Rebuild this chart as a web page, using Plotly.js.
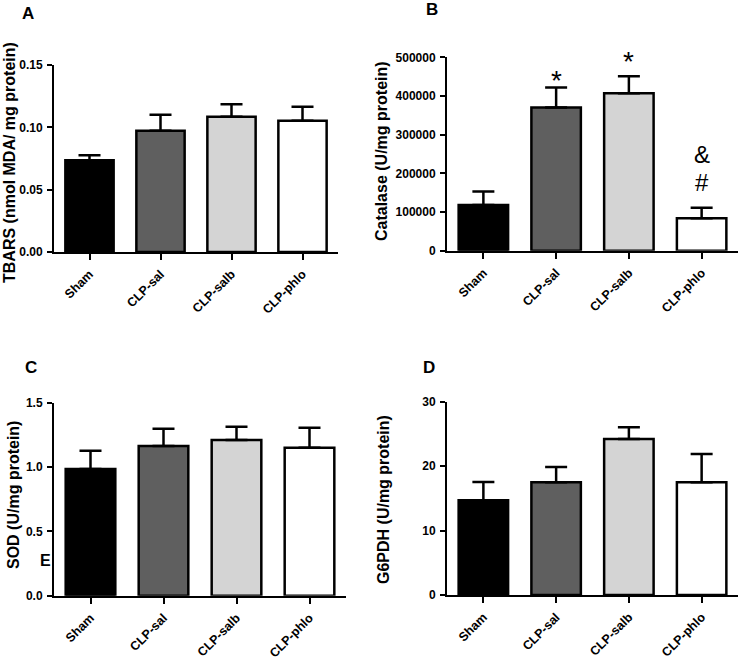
<!DOCTYPE html>
<html>
<head>
<meta charset="utf-8">
<script src="https://cdn.plot.ly/plotly-3.0.1.min.js"></script>
<style>html,body{margin:0;padding:0;background:#fff;}#chart{width:740px;height:661px;}</style>
</head>
<body>
<div id="chart"></div>
<script>
// ---- data ----
const categories = ['Sham', 'CLP-sal', 'CLP-salb', 'CLP-phlo'];

const tbarsMean = [0.0735, 0.0973, 0.1085, 0.1053];
const tbarsErr  = [0.0041, 0.0127, 0.0100, 0.0113];

const catalaseMean = [118000, 370000, 407000, 84000];
const catalaseErr  = [35000, 52000, 44000, 27000];

const sodMean = [0.985, 1.163, 1.21, 1.15];
const sodErr  = [0.142, 0.135, 0.103, 0.156];

const g6pdhMean = [14.7, 17.5, 24.2, 17.5];
const g6pdhErr  = [2.85, 2.35, 1.85, 4.4];

const tbarsTicks = [0, 0.05, 0.10, 0.15];
const catalaseTicks = [0, 100000, 200000, 300000, 400000, 500000];
const sodTicks = [0, 0.5, 1.0, 1.5];
const g6pdhTicks = [0, 10, 20, 30];

// significance marks on catalase panel: [category, label, y-value]
const sigCats   = ['CLP-sal', 'CLP-salb', 'CLP-phlo', 'CLP-phlo'];
const sigLabels = ['*', '*', '&', '#'];
const sigY      = [440000, 488000, 248000, 177000];

// ---- styles ----
const barColors = ['#000000', '#5f5f5f', '#d4d4d4', '#ffffff'];
const FONT = 'Liberation Sans, Arial, Helvetica, sans-serif';
const W = 740, H = 661;

function barTrace(mean, err, xa, ya) {
  return {
    type: 'bar', x: categories, y: mean, xaxis: xa, yaxis: ya,
    width: 0.68,
    marker: {color: barColors, line: {color: '#000', width: 2.5}},
    error_y: {type: 'data', symmetric: false, array: err,
              arrayminus: err.map(() => 0), color: '#000', thickness: 2.5, width: 11},
    showlegend: false, hoverinfo: 'x+y'
  };
}

const data = [
  barTrace(tbarsMean, tbarsErr, 'x', 'y'),
  barTrace(catalaseMean, catalaseErr, 'x2', 'y2'),
  barTrace(sodMean, sodErr, 'x3', 'y3'),
  barTrace(g6pdhMean, g6pdhErr, 'x4', 'y4')
];

function px(x) { return x / W; }
function py(y) { return 1 - y / H; }

function xAxis(l, r, anchor) {
  return {
    domain: [px(l), px(r)], anchor: anchor, range: [-0.5, 3.5],
    showline: true, linecolor: '#000', linewidth: 2,
    ticks: 'outside', ticklen: 6, tickwidth: 2, tickcolor: '#000',
    ticklabelstandoff: 2,
    tickangle: -45, showgrid: false, zeroline: false, fixedrange: true,
    tickfont: {family: FONT, size: 12.5, weight: 700, color: '#000'}
  };
}
function yAxis(top, bottom, anchor, ticks, fmt) {
  return {
    domain: [py(bottom), py(top)], anchor: anchor,
    range: [ticks[0], ticks[ticks.length - 1]],
    tickmode: 'array', tickvals: ticks, tickformat: fmt,
    showline: true, linecolor: '#000', linewidth: 2,
    ticks: 'outside', ticklen: 5, tickwidth: 2, tickcolor: '#000',
    ticklabelstandoff: 2,
    showgrid: false, zeroline: false, fixedrange: true,
    tickfont: {family: FONT, size: 12, weight: 700, color: '#000'}
  };
}

function label(text, x, y, size, weight, angle) {
  return {text: text, xref: 'paper', yref: 'paper', x: px(x), y: py(y),
          xanchor: 'center', yanchor: 'middle', showarrow: false,
          textangle: angle || 0,
          font: {family: FONT, size: size, weight: weight, color: '#000'}};
}

const annotations = [
  label('A', 27.5, 14, 17, 700),
  label('B', 431.7, 9, 17, 700),
  label('C', 31, 367.5, 17, 700),
  label('D', 429, 367.5, 17, 700),
  label('TBARS (nmol MDA/ mg protein)', 10, 163, 16, 700, -90),
  label('Catalase (U/mg protein)', 381, 151, 16, 700, -90),
  label('SOD (U/mg protein)', 13, 495, 16, 700, -90),
  label('G6PDH (U/mg protein)', 384, 500, 16, 700, -90),
  label('E', 45, 560, 16, 700)
];
for (let i = 0; i < sigCats.length; i++) {
  const isStar = sigLabels[i] === '*';
  annotations.push({text: sigLabels[i], xref: 'x2', yref: 'y2', x: sigCats[i], y: sigY[i],
    xanchor: 'center', yanchor: 'middle', showarrow: false,
    font: {family: FONT, size: isStar ? 28 : 24, color: '#000'}});
}

const layout = {
  width: W, height: H,
  margin: {l: 0, r: 0, t: 0, b: 0},
  paper_bgcolor: '#fff', plot_bgcolor: '#fff',
  showlegend: false,
  xaxis: xAxis(54, 338, 'y'),
  yaxis: yAxis(65, 252, 'x', tbarsTicks, '.2f'),
  xaxis2: xAxis(447, 738, 'y2'),
  yaxis2: yAxis(57.3, 250.7, 'x2', catalaseTicks, 'd'),
  xaxis3: xAxis(54, 346, 'y3'),
  yaxis3: yAxis(402.7, 595.7, 'x3', sodTicks, '.1f'),
  xaxis4: xAxis(447, 738, 'y4'),
  yaxis4: yAxis(401.7, 595, 'x4', g6pdhTicks, 'd'),
  annotations: annotations
};

Plotly.newPlot('chart', data, layout, {displayModeBar: false, staticPlot: true});
</script>
</body>
</html>
